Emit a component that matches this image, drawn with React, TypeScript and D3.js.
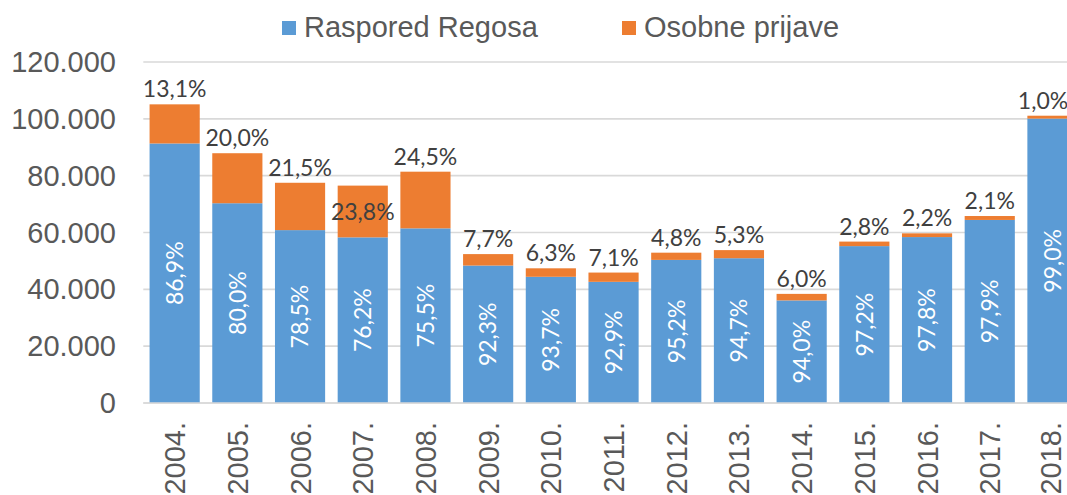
import React from 'react';
import * as d3 from 'd3';

const years = ['2004.', '2005.', '2006.', '2007.', '2008.', '2009.', '2010.', '2011.', '2012.', '2013.', '2014.', '2015.', '2016.', '2017.', '2018.'];
const regosa = [91330, 70300, 60840, 58290, 61460, 48370, 44410, 42640, 50360, 50950, 36100, 55210, 58390, 64420, 100090];
const osobne = [13770, 17600, 16660, 18210, 19940, 4030, 2990, 3260, 2540, 2850, 2300, 1590, 1310, 1380, 1010];
const regosaLabels = ['86,9%', '80,0%', '78,5%', '76,2%', '75,5%', '92,3%', '93,7%', '92,9%', '95,2%', '94,7%', '94,0%', '97,2%', '97,8%', '97,9%', '99,0%'];
const osobneLabels = ['13,1%', '20,0%', '21,5%', '23,8%', '24,5%', '7,7%', '6,3%', '7,1%', '4,8%', '5,3%', '6,0%', '2,8%', '2,2%', '2,1%', '1,0%'];
const yTicks = [0, 20000, 40000, 60000, 80000, 100000, 120000];
const seriesNames = ['Raspored Regosa', 'Osobne prijave'];

const W = 1067;
const H = 495;
const BLUE = '#5B9BD5';
const ORANGE = '#ED7D31';
const AXIS_FONT = '"Liberation Sans", Arial, sans-serif';
const LABEL_FONT = 'Lato, "Open Sans", sans-serif';

export default function App() {
  const x = d3.scaleBand<string>().domain(years).range([143.3, 1083.8]).paddingInner(0.2).paddingOuter(0.1);
  const y = d3.scaleLinear().domain([0, 120000]).range([403, 62]);
  const fmt = d3.formatLocale({ decimal: ',', thousands: '.', grouping: [3], currency: ['', ''] }).format(',d');

  const rows = years.map((yr, i) => ({ yr, a: regosa[i], b: osobne[i] }));
  const stack = d3.stack<any>().keys(['a', 'b'])(rows as any);

  return (
    <svg width={W} height={H} style={{ position: 'absolute', left: 0, top: 0, background: '#fff' }}>
      {yTicks.map((t) => (
        <g key={t}>
          <line x1={143.3} x2={W} y1={y(t)} y2={y(t)} stroke="#d9d9d9" strokeWidth={1.6} />
          <text x={116} y={y(t)} dy="0.35em" textAnchor="end" fontFamily={AXIS_FONT} fontSize={29} fill="#595959">
            {fmt(t)}
          </text>
        </g>
      ))}
      {stack.map((s, si) => (
        <g key={si} fill={si === 0 ? BLUE : ORANGE}>
          {s.map((d: any, i: number) => (
            <rect key={i} x={x(years[i])} width={x.bandwidth()} y={y(d[1])} height={y(d[0]) - y(d[1])} />
          ))}
        </g>
      ))}
      {stack[0].map((d: any, i: number) => {
        const cx = (x(years[i]) as number) + x.bandwidth() / 2;
        const cy = (y(d[0]) + y(d[1])) / 2;
        return (
          <text key={i} transform={`translate(${cx},${cy}) rotate(-90)`} textAnchor="middle" dy="0.36em"
            fontFamily={LABEL_FONT} fontSize={23} fill="#ffffff">
            {regosaLabels[i]}
          </text>
        );
      })}
      {stack[1].map((d: any, i: number) => {
        let cx = (x(years[i]) as number) + x.bandwidth() / 2;
        cx = Math.min(cx, W - 24);
        const inside = years[i] === '2007.';
        const yy = inside ? (y(d[0]) + y(d[1])) / 2 : y(d[1]) - 7;
        return (
          <text key={i} x={cx} y={yy} dy={inside ? '0.36em' : 0} textAnchor="middle"
            fontFamily={LABEL_FONT} fontSize={23} fill="#404040">
            {osobneLabels[i]}
          </text>
        );
      })}
      <line x1={143.3} x2={W} y1={y(0)} y2={y(0)} stroke="#d9d9d9" strokeWidth={1.6} />
      {years.map((yr) => {
        const cx = (x(yr) as number) + x.bandwidth() / 2;
        return (
          <text key={yr} transform={`translate(${Math.min(cx, W - 16)},422) rotate(-90)`} textAnchor="end" dy="0.36em"
            fontFamily={AXIS_FONT} fontSize={29} fill="#595959">
            {yr}
          </text>
        );
      })}
      <g>
        <rect x={282} y={21} width={14} height={14} fill={BLUE} />
        <text x={304} y={37} fontFamily={AXIS_FONT} fontSize={29} fill="#595959">{seriesNames[0]}</text>
        <rect x={622} y={21} width={14} height={14} fill={ORANGE} />
        <text x={644} y={37} fontFamily={AXIS_FONT} fontSize={29} fill="#595959">{seriesNames[1]}</text>
      </g>
    </svg>
  );
}
